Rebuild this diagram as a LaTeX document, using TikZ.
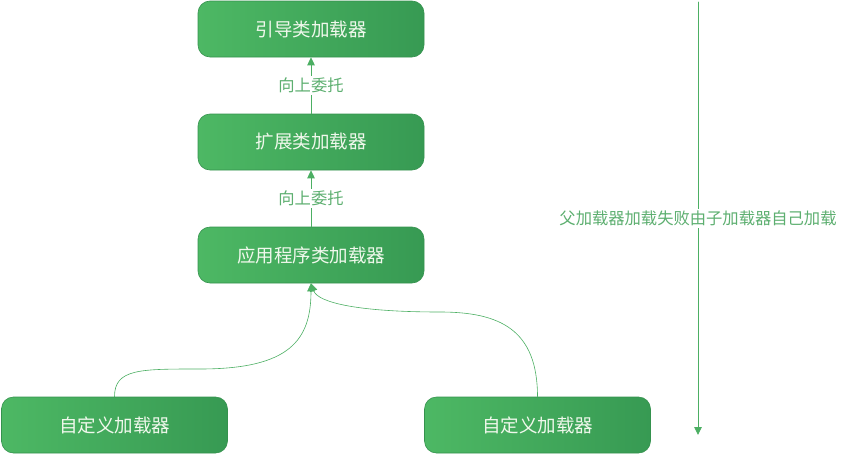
\documentclass[tikz,border=0pt]{standalone}
\usepackage{fontspec}
\usepackage{tikz}
\usetikzlibrary{arrows.meta}
\newfontfamily\cjk{Noto Sans CJK SC}
\definecolor{boxlight}{HTML}{4DB864}
\definecolor{boxdark}{HTML}{379A53}
\definecolor{boxline}{HTML}{35924E}
\definecolor{boxtext}{HTML}{F0F8EC}
\definecolor{linkgreen}{HTML}{4CAF63}
\definecolor{labelgreen}{HTML}{5DAF70}

\tikzset{
  loader/.style={draw=boxline,line width=0.6pt,rounded corners=12pt,left color=boxlight,right color=boxdark,
    minimum width=226pt,minimum height=56pt,inner sep=0pt,text=boxtext,font=\cjk\fontsize{18.5}{22}\selectfont},
  link/.style={draw=linkgreen,line width=0.9pt,->},
  curvelink/.style={draw=linkgreen,line width=0.6pt,->},
  tag/.style={fill=white,text=labelgreen,inner sep=1.5pt,font=\cjk\fontsize{16.3}{18}\selectfont}
}

\begin{document}
\begin{tikzpicture}[line cap=round,line join=round,>={Triangle[width=7.5pt,length=8pt]},x=1pt,y=-1pt]

\useasboundingbox (0,0) rectangle (843,455);
\node [loader] (boot) at (311,29) {引导类加载器};
\node [loader] (ext) at (311,142) {扩展类加载器};
\node [loader] (app) at (311,255) {应用程序类加载器};
\node [loader] (custA) at (114.5,425) {自定义加载器};
\node [loader] (custB) at (537.5,425) {自定义加载器};
\coordinate (failtop) at (698,2);
\coordinate (failend) at (698,435);

\draw [link] (ext.north) -- node [tag] (upA) {向上委托} (boot.south);
\draw [link] (app.north) -- node [tag] (upB) {向上委托} (ext.south);
% curved links from the custom loaders
\draw [curvelink] (custA.north) .. controls +(0,-28) and (140,369) .. (200,369)
  .. controls (290,369) and (311,340) .. (app.south);
\draw [curvelink] (custB.north) .. controls +(0,-67) and (500,312) .. (440,312)
  .. controls (360,312) and (318,303) .. (app.south);
\draw [link] (failtop) -- node [tag] (fail) {父加载器加载失败由子加载器自己加载} (failend);
\end{tikzpicture}
\end{document}
